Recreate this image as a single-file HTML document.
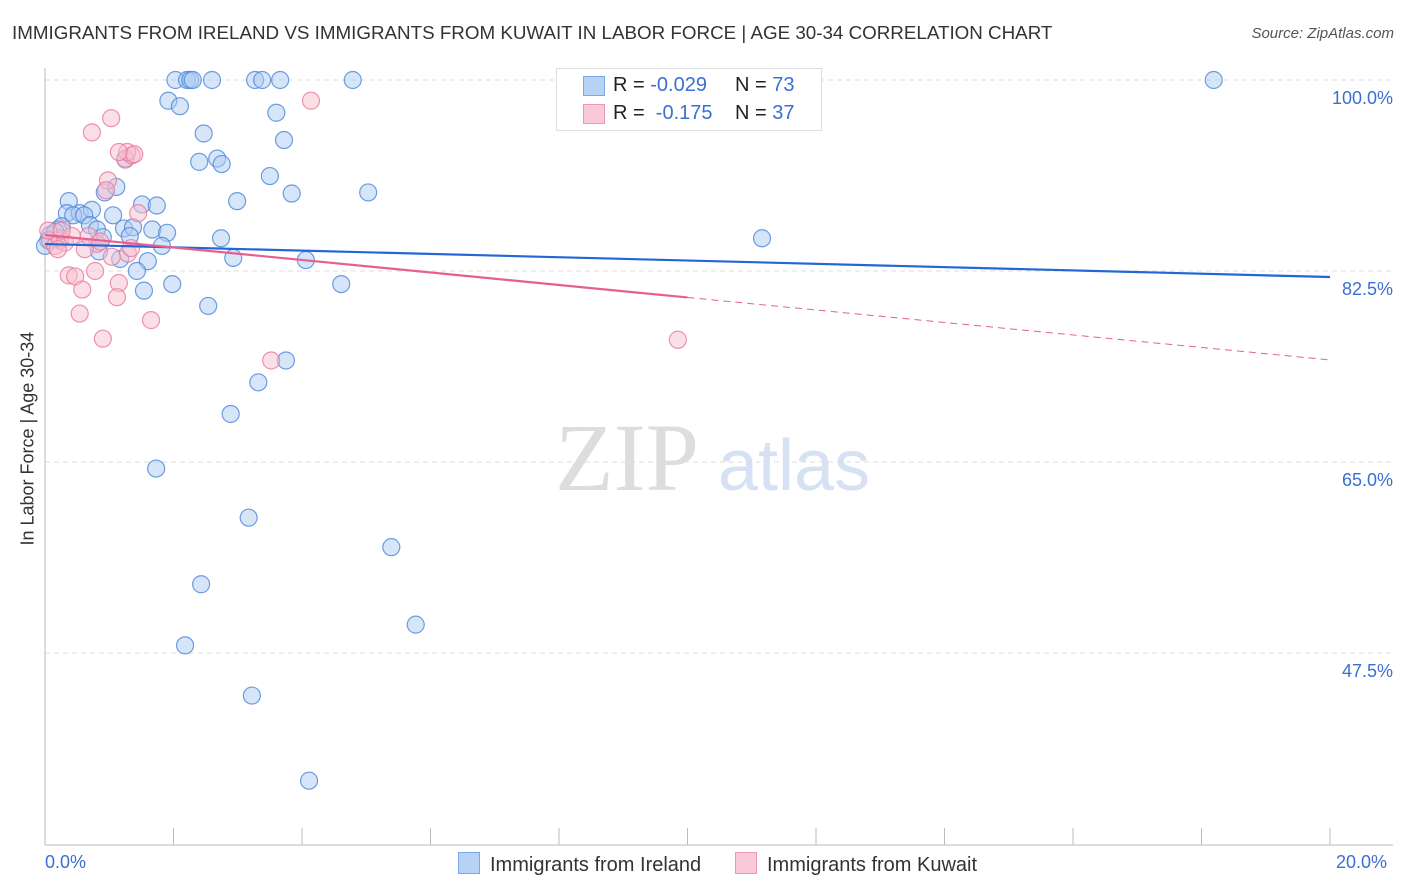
<!DOCTYPE html>
<html><head><meta charset="utf-8"><style>
body{margin:0;background:#fff;font-family:"Liberation Sans",sans-serif;}
#wrap{position:relative;width:1406px;height:892px;overflow:hidden;}
.t{position:absolute;white-space:nowrap;}
</style></head><body>
<div id="wrap">
<div class="t" style="left:12px;top:22px;font-size:18.8px;color:#333;">IMMIGRANTS FROM IRELAND VS IMMIGRANTS FROM KUWAIT IN LABOR FORCE | AGE 30-34 CORRELATION CHART</div>
<div class="t" style="right:12px;top:25px;font-size:15px;color:#555;font-style:italic;">Source: ZipAtlas.com</div>
<svg id="svg" width="1406" height="892" style="position:absolute;left:0;top:0;"></svg>
</div>
<script>
const xTicks=[0,2,4,6,8,10,12,14,16,18,20];
const yTicks=[100,82.5,65,47.5];
const yTickLabels=["100.0%","82.5%","65.0%","47.5%"];
const irelandX=[2.03,2.21,2.26,2.30,2.60,3.27,3.38,3.66,4.79,18.19,1.92,2.10,3.60,2.47,3.72,1.25,2.40,2.68,2.75,3.50,3.84,5.03,2.99,0.93,1.11,1.51,1.74,0.37,0.34,0.54,0.73,0.44,0.61,1.06,0.26,0.20,0.70,0.81,1.23,1.37,1.67,1.90,0.90,1.32,2.74,11.16,0.84,1.17,1.60,2.93,4.06,1.43,1.82,1.54,1.98,4.61,2.54,3.75,3.32,2.89,1.73,3.17,5.39,2.43,5.77,2.18,3.22,4.11,0.08,0.16,0.05,0.23,0.0];
const irelandY=[100,100,100,100,100,100,100,100,100,100,98.1,97.6,97.0,95.1,94.5,92.8,92.5,92.8,92.3,91.2,89.6,89.7,88.9,89.7,90.2,88.6,88.5,88.9,87.8,87.8,88.1,87.6,87.6,87.6,86.6,86.3,86.7,86.3,86.4,86.5,86.3,86.0,85.6,85.7,85.5,85.5,84.3,83.6,83.4,83.7,83.5,82.5,84.8,80.7,81.3,81.3,79.3,74.3,72.3,69.4,64.4,59.9,57.2,53.8,50.1,48.2,43.6,35.8,85.8,86.1,85.3,85.3,84.8];
const kuwaitX=[4.14,1.03,0.73,1.25,1.35,1.28,1.15,1.39,0.98,0.95,1.45,1.29,1.34,0.81,0.62,0.37,0.47,0.78,0.58,1.15,1.12,0.54,1.65,0.90,3.52,9.85,0.08,0.16,0.23,0.31,0.05,0.42,0.20,0.26,0.68,0.86,1.04];
const kuwaitY=[98.1,96.5,95.2,92.7,93.1,93.4,93.4,93.2,90.8,89.9,87.8,84.1,84.6,85.0,84.5,82.1,82.0,82.5,80.8,81.4,80.1,78.6,78.0,76.3,74.3,76.2,85.3,84.8,85.5,85.1,86.2,85.7,84.5,86.2,85.7,85.2,83.8];
const trendIreland=[84.97,81.95];
const trendKuwait=[85.8,74.35];
const kuwaitSolidEnd=10;

const svg=document.getElementById('svg');const NS='http://www.w3.org/2000/svg';
const X0=45,X1=1330,Y100=80,PX=191/17.5;
const sx=v=>X0+(v/20)*(X1-X0);
const sy=v=>Y100+(100-v)*PX;
function mk(tag,attrs,parent){const e=document.createElementNS(NS,tag);for(const k in attrs)e.setAttribute(k,attrs[k]);(parent||svg).appendChild(e);return e;}
let wm=mk('text',{x:555,y:490,'font-size':96,'font-family':'Liberation Serif,serif',fill:'#ddd'});wm.textContent='ZIP';


let wm2=mk('text',{x:718,y:490,'font-size':72,'font-family':'Liberation Sans,sans-serif',fill:'#d6e2f3'});wm2.textContent='atlas';


yTicks.forEach((t,i)=>{
 const g=mk('line',{x1:X0,x2:1393,y1:sy(t),y2:sy(t),stroke:'#ddd','stroke-dasharray':'5,4'});
 
 
 const l=mk('text',{x:1393,y:sy(t)+24,'text-anchor':'end','font-size':18,fill:'#3b6fd1'});l.textContent=yTickLabels[i];
 
 
});
const ya=mk('line',{x1:X0,x2:X0,y1:68,y2:845,stroke:'#bbb'});


const xa=mk('line',{x1:X0,x2:1393,y1:845,y2:845,stroke:'#bbb'});


xTicks.forEach(t=>{const tk=mk('line',{x1:sx(t),x2:sx(t),y1:828,y2:845,stroke:'#bbb'});
 
 });
function pts(xs,ys,fill,stroke,name){xs.forEach((x,i)=>{const c=mk('circle',{cx:sx(x),cy:sy(ys[i]),r:8.5,fill:fill,'fill-opacity':0.5,stroke:stroke,'stroke-width':1.2,'stroke-opacity':0.8});
 
 });}
pts(irelandX,irelandY,'#aecbf2','#4a86db','point-ireland');
pts(kuwaitX,kuwaitY,'#f8bfd0','#e8799b','point-kuwait');
const tb=mk('line',{x1:sx(0),y1:sy(trendIreland[0]),x2:sx(20),y2:sy(trendIreland[1]),stroke:'#2267d4','stroke-width':2.2});


const kAt=x=>trendKuwait[0]+(trendKuwait[1]-trendKuwait[0])*x/20;
const tk1=mk('line',{x1:sx(0),y1:sy(kAt(0)),x2:sx(kuwaitSolidEnd),y2:sy(kAt(kuwaitSolidEnd)),stroke:'#e5608e','stroke-width':2.2});


const tk2=mk('line',{x1:sx(kuwaitSolidEnd),y1:sy(kAt(kuwaitSolidEnd)),x2:sx(20),y2:sy(kAt(20)),stroke:'#e5608e','stroke-width':1,'stroke-dasharray':'7,5'});


</script>
<div class="t" style="left:45px;top:852px;font-size:18px;color:#3b6fd1;">0.0%</div>
<div class="t" style="left:1336px;top:852px;font-size:18px;color:#3b6fd1;">20.0%</div>
<div class="t" style="left:-62px;top:445px;font-size:18px;color:#333;transform:rotate(-90deg);width:180px;text-align:center;">In Labor Force | Age 30-34</div>
<div style="position:absolute;left:556px;top:68px;width:264px;height:61px;border:1px solid #ddd;background:#fff;font-size:20px;">
 <div style="position:absolute;left:26px;top:7px;width:20px;height:18px;background:#b8d2f5;border:1px solid #7aa7e6;"></div>
 <div class="t" style="left:56px;top:5px;color:#222;">R = <span style="color:#3b6fd1">-0.029</span></div>
 <div class="t" style="left:178px;top:5px;color:#222;">N = <span style="color:#3b6fd1">73</span></div>
 <div style="position:absolute;left:26px;top:35px;width:20px;height:18px;background:#fac9d7;border:1px solid #ef97b2;"></div>
 <div class="t" style="left:56px;top:33px;color:#222;">R = &nbsp;<span style="color:#3b6fd1">-0.175</span></div>
 <div class="t" style="left:178px;top:33px;color:#222;">N = <span style="color:#3b6fd1">37</span></div>
</div>
<div style="position:absolute;left:458px;top:852px;font-size:20px;color:#333;">
 <div style="position:absolute;left:0;top:0;white-space:nowrap;"><span style="display:inline-block;width:20px;height:20px;background:#b8d2f5;border:1px solid #7aa7e6;vertical-align:-3px;margin-right:10px;"></span>Immigrants from Ireland</div>
 <div style="position:absolute;left:277px;top:0;white-space:nowrap;"><span style="display:inline-block;width:20px;height:20px;background:#fac9d7;border:1px solid #ef97b2;vertical-align:-3px;margin-right:10px;"></span>Immigrants from Kuwait</div>
</div>
</body></html>
